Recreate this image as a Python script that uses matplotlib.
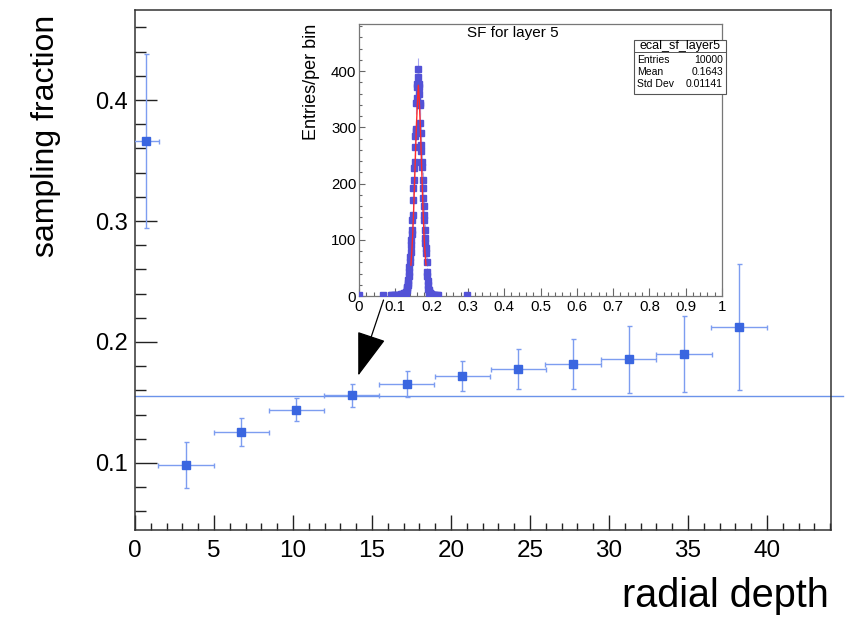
import numpy as np
import matplotlib
matplotlib.use("Agg")
import matplotlib.pyplot as plt
from matplotlib.ticker import MultipleLocator
from matplotlib.patches import Rectangle

plt.rcParams['font.family'] = ['Liberation Sans', 'DejaVu Sans']

# ---------------- main graph data ----------------
depth = [0.72, 3.23, 6.74, 10.2, 13.72, 17.2, 20.72, 24.25, 27.72, 31.25, 34.75, 38.22]
depth_err = [0.8, 1.75, 1.75, 1.75, 1.75, 1.75, 1.75, 1.75, 1.75, 1.75, 1.75, 1.75]
sf = [0.366, 0.098, 0.1256, 0.1438, 0.1558, 0.1653, 0.1719, 0.1777, 0.1818, 0.1859, 0.1900, 0.2124]
sf_err = [0.072, 0.019, 0.0115, 0.0095, 0.0095, 0.0105, 0.0124, 0.0167, 0.0205, 0.0277, 0.0314, 0.0518]
mean_sf = 0.1554
line_x = [0.0, 44.8]

# arrow (main-axis data coordinates)
arrow_start = (15.73, 0.2347)
arrow_tip = (14.13, 0.1722)

# ---------------- inset histogram data ----------------
hist_x = [0.000, 0.065, 0.088, 0.092, 0.096, 0.100, 0.104, 0.108, 0.112, 0.115, 0.118,
          0.121, 0.123, 0.125, 0.127,
          0.128, 0.129, 0.130, 0.131, 0.132, 0.133, 0.134, 0.135, 0.136, 0.137,
          0.138, 0.139, 0.140, 0.141, 0.142, 0.143, 0.144, 0.145, 0.146, 0.147,
          0.148, 0.149, 0.150, 0.151, 0.152, 0.153, 0.154, 0.155, 0.156, 0.157,
          0.158, 0.159, 0.160, 0.161, 0.162, 0.163, 0.164, 0.165, 0.166, 0.167,
          0.168, 0.169, 0.170, 0.171, 0.172, 0.173, 0.174, 0.175, 0.176, 0.177,
          0.178, 0.179, 0.180, 0.181, 0.182, 0.183, 0.184, 0.185, 0.186, 0.187,
          0.188, 0.189, 0.190, 0.191, 0.192, 0.193, 0.194, 0.195, 0.196, 0.197,
          0.198, 0.199, 0.200, 0.203, 0.206, 0.210, 0.214, 0.218, 0.297]
hist_y = [1, 1, 1, 1, 1, 2, 1, 2, 2, 3, 3,
          3, 4, 5, 6,
          4, 6, 8, 11, 14, 16, 19, 23, 28, 36,
          43, 52, 61, 70, 78, 90, 100, 110, 117, 135,
          144, 170, 192, 206, 227, 239, 266, 284, 294, 298,
          343, 352, 372, 377, 390, 404, 372, 377, 360, 343,
          339, 308, 290, 269, 258, 239, 230, 206, 192, 174,
          160, 144, 135, 117, 103, 94, 85, 76, 61, 43,
          35, 27, 19, 12, 10, 8, 6, 5, 4, 3,
          3, 2, 2, 2, 1, 1, 1, 1, 1]

# Gaussian fit curve
fit_x = [0.143, 0.1455, 0.148, 0.1505, 0.153, 0.1555, 0.158, 0.161, 0.1635,
         0.166, 0.169, 0.1715, 0.174, 0.1765, 0.179, 0.1815, 0.1846]
fit_y = [55, 80, 110, 152, 200, 252, 300, 345, 375,
         350, 300, 252, 200, 152, 110, 80, 55]

stats_name = "ecal_sf_layer5"
stats_rows = [("Entries", "10000"), ("Mean", "0.1643"), ("Std Dev", "0.01141")]

# ---------------- figure ----------------
W, H = 860, 617
fig = plt.figure(figsize=(W / 100, H / 100), dpi=100)

def frac_box(l, t, r, b):
    return [l / W, 1 - b / H, (r - l) / W, (b - t) / H]

ax = fig.add_axes(frac_box(135, 10, 831, 530))
blue = '#3a66e0'
ebc = '#7d9df0'
ax.plot(line_x, [mean_sf, mean_sf], color='#6b93ea', lw=1.0, clip_on=False, zorder=2)
ax.errorbar(depth, sf, xerr=depth_err, yerr=sf_err, fmt='s', color=blue,
            ms=6.2, mec=blue, ecolor=ebc, elinewidth=1.0, capsize=1.8, capthick=1.0,
            zorder=3)
ax.set_xlim(0, 44.05)
ax.set_ylim(0.0446, 0.4744)
ax.xaxis.set_major_locator(MultipleLocator(5))
ax.xaxis.set_minor_locator(MultipleLocator(1))
ax.yaxis.set_major_locator(MultipleLocator(0.1))
ax.yaxis.set_minor_locator(MultipleLocator(0.02))
ax.yaxis.set_major_formatter(matplotlib.ticker.FormatStrFormatter('%.1f'))
ax.tick_params(axis='both', which='both', direction='in', top=False, right=False,
               colors='#222222', labelcolor='black', width=1.0)
ax.tick_params(axis='y', which='major', length=15.8, labelsize=17, pad=5)
ax.tick_params(axis='y', which='minor', length=7.9)
ax.tick_params(axis='x', which='major', length=10.8, labelsize=17.5, pad=7)
ax.tick_params(axis='x', which='minor', length=5.4)
for s in ax.spines.values():
    s.set_color('#333333')
    s.set_linewidth(1.1)

ax.annotate('', xy=arrow_tip, xytext=arrow_start, xycoords='data', textcoords='data',
            arrowprops=dict(arrowstyle='-|>,head_length=1.55,head_width=0.52',
                            mutation_scale=18, color='black', lw=0.9,
                            shrinkA=0, shrinkB=0), zorder=4)

fig.text(46 / W, 1 - 15 / H, 'sampling fraction', rotation=90, ha='center', va='top',
         fontsize=23)
fig.text(829 / W, 1 - 607 / H, 'radial depth', ha='right', va='baseline', fontsize=28.5)

# ---------------- inset ----------------
axi = fig.add_axes(frac_box(359, 24, 722, 296))
axi.set_facecolor('white')
axi.errorbar(hist_x, hist_y, yerr=np.sqrt(hist_y), fmt='s', color='#5352d6', ms=3.9,
             mec='#5352d6', ecolor='#a9a9f2', elinewidth=0.8, capsize=0, zorder=3)
axi.plot(fit_x, fit_y, color='#ff2a2a', lw=1.0, zorder=4)
axi.set_xlim(0, 1)
axi.set_ylim(0, 484)
axi.xaxis.set_major_locator(MultipleLocator(0.1))
axi.xaxis.set_minor_locator(MultipleLocator(0.02))
axi.yaxis.set_major_locator(MultipleLocator(100))
axi.yaxis.set_minor_locator(MultipleLocator(20))
axi.xaxis.set_major_formatter(matplotlib.ticker.FuncFormatter(
    lambda v, p: '0' if abs(v) < 1e-9 else ('1' if abs(v - 1) < 1e-9 else f'{v:.1f}')))
axi.tick_params(axis='both', which='both', direction='in', top=False, right=False,
                colors='#666666', labelcolor='black', width=0.8, labelsize=10.8)
axi.tick_params(axis='x', which='major', length=5.5, pad=3)
axi.tick_params(axis='x', which='minor', length=2.8)
axi.tick_params(axis='y', which='major', length=4.5, pad=2)
axi.tick_params(axis='y', which='minor', length=2.3)
for s in axi.spines.values():
    s.set_color('#777777')
    s.set_linewidth(0.9)

axi.text(0.424, 0.967, 'SF for layer 5', transform=axi.transAxes, ha='center',
         va='center', fontsize=11)
axi.text(-0.132, 1.0, 'Entries/per bin', transform=axi.transAxes, rotation=90,
         ha='center', va='top', fontsize=13)

# stats box
bl, br, bt, bb, bsep = 0.7576, 1.011, 0.941, 0.743, 0.897
axi.add_patch(Rectangle((bl, bb), br - bl, bt - bb, transform=axi.transAxes,
                        facecolor='white', edgecolor='#555555', lw=0.8, clip_on=False,
                        zorder=5))
axi.plot([bl, br], [bsep, bsep], transform=axi.transAxes, color='#555555', lw=0.7,
         clip_on=False, zorder=6)
axi.text((bl + br) / 2, 0.919, stats_name, transform=axi.transAxes, ha='center',
         va='center', fontsize=9, zorder=7)
for (k, v), yy in zip(stats_rows, [0.868, 0.822, 0.778]):
    axi.text(bl + 0.008, yy, k, transform=axi.transAxes, ha='left', va='center',
             fontsize=7.5, zorder=7)
    axi.text(br - 0.008, yy, v, transform=axi.transAxes, ha='right', va='center',
             fontsize=7.5, zorder=7)

fig.savefig('out.png', dpi=100)
